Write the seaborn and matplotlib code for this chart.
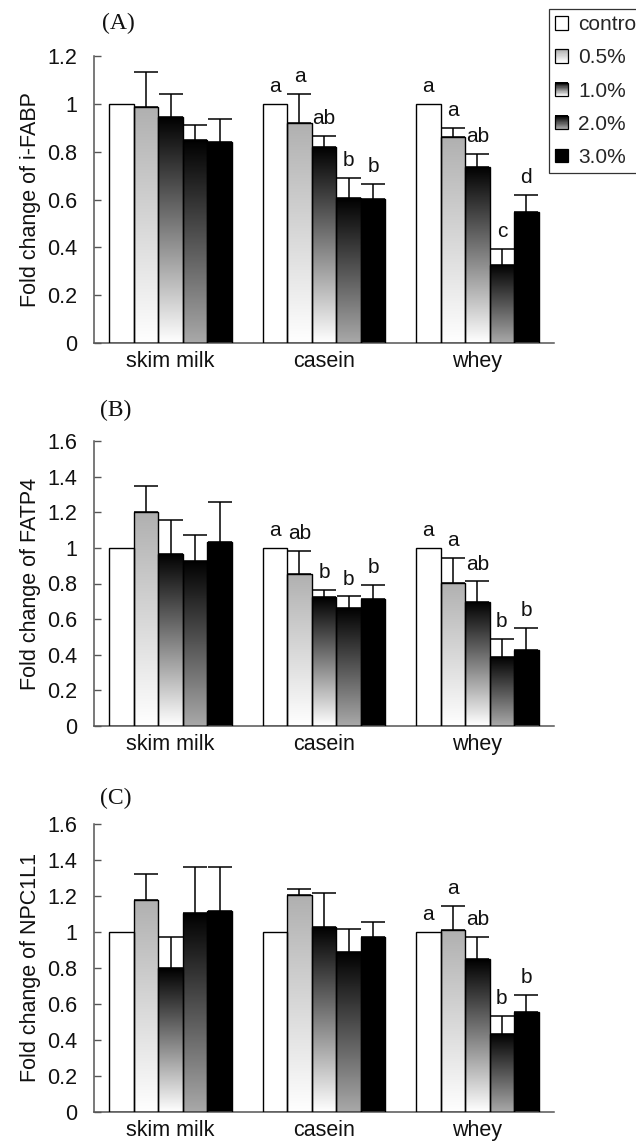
import numpy as np
import pandas as pd
import matplotlib
matplotlib.use("Agg")
import matplotlib.pyplot as plt
import seaborn as sns
from matplotlib.patches import Rectangle
from matplotlib.legend_handler import HandlerBase
from matplotlib.colors import LinearSegmentedColormap, to_rgb

# ---------------- data ----------------
groups = ["skim milk", "casein", "whey"]
doses = ["control", "0.5%", "1.0%", "2.0%", "3.0%"]

# rows = groups, columns = doses
ifabp_mean = [[1.00, 0.985, 0.947, 0.849, 0.839],
              [1.00, 0.921, 0.821, 0.608, 0.601],
              [1.00, 0.862, 0.737, 0.328, 0.547]]
ifabp_err = [[0.0, 0.150, 0.093, 0.063, 0.096],
             [0.0, 0.119, 0.046, 0.082, 0.063],
             [0.0, 0.037, 0.053, 0.065, 0.073]]
ifabp_sig = [["", "", "", "", ""],
             ["a", "a", "ab", "b", "b"],
             ["a", "a", "ab", "c", "d"]]

fatp4_mean = [[1.00, 1.199, 0.968, 0.927, 1.031],
              [1.00, 0.855, 0.722, 0.664, 0.711],
              [1.00, 0.804, 0.698, 0.389, 0.426]]
fatp4_err = [[0.0, 0.151, 0.186, 0.147, 0.229],
             [0.0, 0.126, 0.041, 0.064, 0.080],
             [0.0, 0.138, 0.114, 0.098, 0.125]]
fatp4_sig = [["", "", "", "", ""],
             ["a", "ab", "b", "b", "b"],
             ["a", "a", "ab", "b", "b"]]

npc_mean = [[1.00, 1.180, 0.798, 1.106, 1.117],
            [1.00, 1.205, 1.028, 0.889, 0.972],
            [1.00, 1.009, 0.848, 0.435, 0.556]]
npc_err = [[0.0, 0.145, 0.174, 0.253, 0.242],
           [0.0, 0.033, 0.186, 0.128, 0.084],
           [0.0, 0.134, 0.124, 0.099, 0.093]]
npc_sig = [["", "", "", "", ""],
           ["", "", "", "", ""],
           ["a", "a", "ab", "b", "b"]]

panel_tags = ["(A)", "(B)", "(C)"]
ylabels = ["Fold change of i-FABP", "Fold change of FATP4", "Fold change of NPC1L1"]
ymax = [1.2, 1.6, 1.6]

# gradient (top colour, bottom colour) per dose
grad_colors = {"control": ("#ffffff", "#ffffff"),
               "0.5%": ("#b0b0b0", "#ffffff"),
               "1.0%": ("#000000", "#ffffff"),
               "2.0%": ("#000000", "#a9a9a9"),
               "3.0%": ("#000000", "#000000")}

# ---------------- style ----------------
sns.set_style("white")
plt.rcParams["font.family"] = ["Liberation Sans", "DejaVu Sans"]
SERIF = ["Liberation Serif", "DejaVu Serif"]
AXCOL = "#555555"
TXT = "#111111"

W, H = 636, 1144
fig = plt.figure(figsize=(W / 100, H / 100), dpi=100)

# axes boxes in pixels: (left, top, right, bottom)
boxes = [(94, 56, 554, 343), (94, 441, 554, 726), (94, 824, 554, 1112)]
tag_pos = [(118, 23), (116, 410), (116, 798)]

panels = [(ifabp_mean, ifabp_err, ifabp_sig),
          (fatp4_mean, fatp4_err, fatp4_sig),
          (npc_mean, npc_err, npc_sig)]

for k, ((means, errs, sigs), box) in enumerate(zip(panels, boxes)):
    l, t, r, b = box
    ax = fig.add_axes([l / W, 1 - b / H, (r - l) / W, (b - t) / H])
    rows = []
    for gi, g in enumerate(groups):
        for di, d in enumerate(doses):
            rows.append({"group": g, "dose": d, "value": means[gi][di],
                         "err": errs[gi][di], "sig": sigs[gi][di]})
    df = pd.DataFrame(rows)
    sns.barplot(data=df, x="group", y="value", hue="dose", order=groups,
                hue_order=doses, errorbar=None, width=0.8,
                palette=["white"] * 5, edgecolor="black", linewidth=1.0,
                legend=False, ax=ax)

    for di, (d, cont) in enumerate(zip(doses, ax.containers)):
        top_c, bot_c = grad_colors[d]
        cmap = LinearSegmentedColormap.from_list(d, [top_c, bot_c])
        for gi, bar in enumerate(cont):
            x0, w, h = bar.get_x(), bar.get_width(), bar.get_height()
            bar.set_facecolor("none")
            bar.set_zorder(3)
            grad = np.linspace(0, 1, 256).reshape(-1, 1)
            im = ax.imshow(grad, extent=[x0, x0 + w, 0, h], origin="upper",
                           aspect="auto", cmap=cmap, vmin=0, vmax=1,
                           zorder=2, interpolation="bilinear")
            im.set_clip_path(bar)
            xc = x0 + w / 2
            e = errs[gi][di]
            if e > 0:
                ax.errorbar([xc], [h], yerr=[[0], [e]], fmt="none",
                            ecolor="black", elinewidth=1.1, capsize=8.5,
                            capthick=1.1, zorder=4)
            s = sigs[gi][di]
            if s:
                ax.annotate(s, (xc, h + e), xytext=(0, 8.5),
                            textcoords="offset points", ha="center",
                            va="baseline", fontsize=15, color=TXT)

    ax.set_xlim(-0.5, 2.5)
    ax.set_ylim(0, ymax[k])
    ax.set_aspect("auto")
    yt = np.round(np.arange(0, ymax[k] + 1e-9, 0.2), 1)
    ax.set_yticks(yt)
    ax.set_yticklabels([f"{v:g}" for v in yt])
    ax.set_xticks(range(len(groups)))
    ax.set_xticklabels(groups)
    ax.set_xticks([-0.5, 0.5, 1.5, 2.5], minor=True)
    ax.tick_params(axis="x", which="major", length=0, pad=6, labelsize=15.5,
                   labelcolor=TXT)
    ax.tick_params(axis="x", which="minor", direction="in", length=5,
                   width=1, color=AXCOL)
    ax.tick_params(axis="y", direction="in", length=5, width=1, color=AXCOL,
                   pad=12, labelsize=15.5, labelcolor=TXT, left=True)
    ax.set_xlabel("")
    ax.set_ylabel(ylabels[k], fontsize=15.5, color=TXT, va="center")
    ax.yaxis.set_label_coords(-0.139, 0.5)
    for sp in ["top", "right"]:
        ax.spines[sp].set_visible(False)
    for sp in ["left", "bottom"]:
        ax.spines[sp].set_color(AXCOL)
        ax.spines[sp].set_linewidth(1.1)
    ax.grid(False)

    tx, ty = tag_pos[k]
    fig.text(tx / W, 1 - ty / H, panel_tags[k], family=SERIF, fontsize=17,
             ha="center", va="center", color=TXT)


# ---------------- legend with gradient swatches ----------------
class GradHandler(HandlerBase):
    def __init__(self, top, bottom, n=24):
        super().__init__()
        self.top = np.array(to_rgb(top))
        self.bottom = np.array(to_rgb(bottom))
        self.n = n

    def create_artists(self, legend, orig_handle, xdescent, ydescent,
                       width, height, fontsize, trans):
        side = height
        x0, y0 = -xdescent, -ydescent
        arts = []
        for i in range(self.n):
            f = i / (self.n - 1)
            c = self.bottom * (1 - f) + self.top * f
            arts.append(Rectangle((x0, y0 + i * side / self.n), side,
                                  side / self.n + 0.3, facecolor=c,
                                  edgecolor="none", transform=trans))
        arts.append(Rectangle((x0, y0), side, side, facecolor="none",
                              edgecolor="black", linewidth=0.9,
                              transform=trans))
        return arts


proxies = [Rectangle((0, 0), 1, 1) for _ in doses]
hmap = {p: GradHandler(*grad_colors[d]) for p, d in zip(proxies, doses)}
leg = fig.legend(proxies, doses, handler_map=hmap, loc="upper left",
                 bbox_to_anchor=(549 / W, 1 - 9 / H), borderaxespad=0,
                 fontsize=15, frameon=True, fancybox=False, framealpha=1,
                 edgecolor="#333333", handlelength=0.6, handleheight=0.6,
                 handletextpad=0.5, labelspacing=0.68, borderpad=0.3)
leg.get_frame().set_linewidth(0.9)

fig.savefig("out.png", dpi=100)
